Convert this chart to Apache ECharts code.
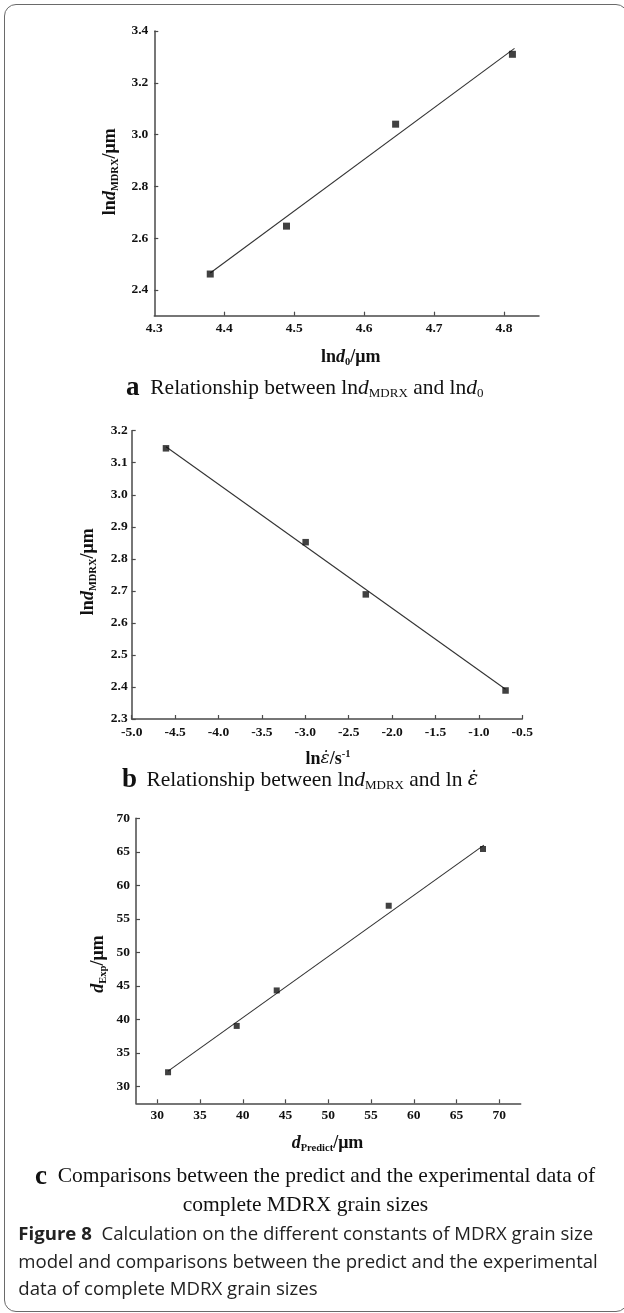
<!DOCTYPE html>
<html>
<head>
<meta charset="utf-8">
<script src="https://cdn.jsdelivr.net/npm/echarts@6/dist/echarts.min.js"></script>
<style>
html,body{margin:0;padding:0;background:#fff;}
#frame{position:absolute;left:4px;top:4px;width:624px;height:1308px;border:1.5px solid #6a6a6a;border-radius:12px;box-sizing:border-box;}
#chart{position:absolute;left:0;top:0;width:624px;height:1313px;}
</style>
</head>
<body>
<div id="frame"></div>
<div id="chart"></div>
<script>
// ---------- Panel a: lnd_MDRX vs lnd0 ----------
const aLnD0     = [4.380, 4.489, 4.645, 4.812];
const aLnDmdrx  = [2.461, 2.646, 3.040, 3.310];
const aFitX     = [4.380, 4.815];
const aFitY     = [2.465, 3.333];
const aXLabels  = [4.3, 4.4, 4.5, 4.6, 4.7, 4.8];
const aXTicks   = [4.4, 4.5, 4.6, 4.7, 4.8];
const aYLabels  = [2.4, 2.6, 2.8, 3.0, 3.2, 3.4];

// ---------- Panel b: lnd_MDRX vs ln(strain rate) ----------
const bLnRate   = [-4.605, -2.996, -2.303, -0.693];
const bLnDmdrx  = [3.145, 2.852, 2.689, 2.389];
const bFitX     = [-4.605, -0.693];
const bFitY     = [3.150, 2.393];
const bXLabels  = [-5.0, -4.5, -4.0, -3.5, -3.0, -2.5, -2.0, -1.5, -1.0, -0.5];
const bYLabels  = [2.3, 2.4, 2.5, 2.6, 2.7, 2.8, 2.9, 3.0, 3.1, 3.2];

// ---------- Panel c: d_Exp vs d_Predict ----------
const cPredict  = [31.25, 39.28, 43.96, 57.06, 68.09];
const cExp      = [32.13, 39.04, 44.33, 56.96, 65.42];
const cFitX     = [31.25, 68.20];
const cFitY     = [32.30, 66.00];
const cXLabels  = [30, 35, 40, 45, 50, 55, 60, 65, 70];
const cYLabels  = [30, 35, 40, 45, 50, 55, 60, 65, 70];

const SERIF = "'Liberation Serif', 'Times New Roman', serif";
const MARKF = "'DejaVu Serif', serif";
const SANS  = "'Open Sans', 'Noto Sans', sans-serif";
const AXIS_COLOR = '#4a4a4a';
const INK = '#111';

function pairs(xs, ys){ return xs.map((x,i)=>[x, ys[i]]); }

function axis(gridIndex, min, max, labels, ticks, digits, margin){
  return {
    type:'value', gridIndex, min, max, scale:true,
    axisLine:{show:true, onZero:false, lineStyle:{color:AXIS_COLOR, width:1.5}},
    axisTick:{show:true, inside:true, length:4, customValues:ticks, lineStyle:{color:AXIS_COLOR, width:1.2}},
    axisLabel:{show:true, customValues:labels, margin,
      formatter:(v)=>Number(v).toFixed(digits),
      color:INK, fontFamily:SERIF, fontWeight:'bold', fontSize:13.5},
    splitLine:{show:false}
  };
}

const chart = echarts.init(document.getElementById('chart'), null, {renderer:'canvas'});

const grids = [
  {left:154.3, top:31,    width:384.7, height:284.7, outerBoundsMode:'none', containLabel:false},
  {left:131.7, top:430.7, width:390.6, height:288.3, outerBoundsMode:'none', containLabel:false},
  {left:136,   top:818.3, width:384.7, height:285,   outerBoundsMode:'none', containLabel:false}
];

const xAxes = [
  axis(0, 4.3, 4.85, aXLabels, aXTicks, 1, 6),
  axis(1, -5.0, -0.5, bXLabels, bXLabels, 1, 7),
  axis(2, 27.5, 72.5, cXLabels, cXLabels, 0, 5)
];
const yAxes = [
  axis(0, 2.3, 3.4, aYLabels, aYLabels, 1, 6),
  axis(1, 2.3, 3.2, bYLabels, bYLabels, 1, 4),
  axis(2, 27.5, 70, cYLabels, cYLabels, 0, 6)
];

function scatter(i, xs, ys, size){
  return {type:'scatter', xAxisIndex:i, yAxisIndex:i, data:pairs(xs, ys),
    symbol:'rect', symbolSize:size, itemStyle:{color:INK}, z:3, silent:true};
}
function fit(i, xs, ys){
  return {type:'line', xAxisIndex:i, yAxisIndex:i, data:pairs(xs, ys),
    showSymbol:false, symbol:'none', lineStyle:{color:'#333', width:1.1}, z:2, silent:true};
}

const series = [
  fit(0, aFitX, aFitY), scatter(0, aLnD0, aLnDmdrx, 7),
  fit(1, bFitX, bFitY), scatter(1, bLnRate, bLnDmdrx, 6.5),
  fit(2, cFitX, cFitY), scatter(2, cPredict, cExp, 6)
];

// ---- rich text styles ----
const N = 18;
const nameRich = {
  r:  {fontFamily:SERIF, fontWeight:'bold', fontSize:N, lineHeight:21, fill:INK},
  i:  {fontFamily:SERIF, fontWeight:'bold', fontStyle:'italic', fontSize:N, lineHeight:21, fill:INK},
  e:  {fontFamily:MARKF, fontStyle:'italic', fontSize:N-1, lineHeight:21, fill:INK},
  sub:{fontFamily:SERIF, fontWeight:'bold', fontSize:10.5, lineHeight:10, verticalAlign:'bottom', fill:INK},
  sup:{fontFamily:SERIF, fontWeight:'bold', fontSize:10.5, lineHeight:10, verticalAlign:'top', fill:INK}
};
const C = 21.5;
const capRich = {
  L:  {fontFamily:SERIF, fontWeight:'bold', fontSize:27, lineHeight:24, fill:INK},
  Lp: {fontFamily:SERIF, fontWeight:'bold', fontSize:27, lineHeight:24, fill:INK, padding:[0,4,0,0]},
  t:  {fontFamily:SERIF, fontSize:C, lineHeight:24, fill:INK},
  ti: {fontFamily:SERIF, fontStyle:'italic', fontSize:C, lineHeight:24, fill:INK},
  te: {fontFamily:MARKF, fontStyle:'italic', fontSize:C-2, lineHeight:24, fill:INK},
  ts: {fontFamily:SERIF, fontSize:13, lineHeight:13, verticalAlign:'bottom', fill:INK}
};
const F = 18.6;
const figRich = {
  b: {fontFamily:SANS, fontWeight:'bold', fontSize:F, lineHeight:24, fill:'#222'},
  t: {fontFamily:SANS, fontSize:F, lineHeight:24, fill:'#222'}
};

function txt(x, y, text, rich, align, rot){
  return {type:'text', x, y, rotation:rot||0, silent:true,
    style:{text, rich, align:align||'center', verticalAlign:'middle', fill:INK}};
}
const UP = Math.PI/2;
const EPSDOT = '\u03B5\u0307';

const graphic = [
  // panel a
  txt(350.8, 357, '{r|ln}{i|d}{sub|0}{r|/\u03BCm}', nameRich, 'center'),
  txt(110, 171.7, '{r|ln}{i|d}{sub|MDRX}{r|/\u03BCm}', nameRich, 'center', UP),
  txt(126, 388, '{L|a}{t|  Relationship between ln}{ti|d}{ts|MDRX}{t| and ln}{ti|d}{ts|0}', capRich, 'left'),
  // panel b
  txt(328, 759, '{r|ln}{e|' + EPSDOT + '}{r|/s}{sup|-1}', nameRich, 'center'),
  txt(88, 571.7, '{r|ln}{i|d}{sub|MDRX}{r|/\u03BCm}', nameRich, 'center', UP),
  txt(122, 780, '{Lp|b}{t| Relationship between ln}{ti|d}{ts|MDRX}{t| and ln }{te|' + EPSDOT + '}', capRich, 'left'),
  // panel c
  txt(327.5, 1143, '{i|d}{sub|Predict}{r|/\u03BCm}', nameRich, 'center'),
  txt(98, 964, '{i|d}{sub|Exp}{r|/\u03BCm}', nameRich, 'center', UP),
  txt(35, 1176.7, '{L|c}{t|  Comparisons between the predict and the experimental data of}', capRich, 'left'),
  txt(182.7, 1205, '{t|complete MDRX grain sizes}', capRich, 'left'),
  // figure caption
  txt(18.3, 1235, '{b|Figure 8}{t|  Calculation on the different constants of MDRX grain size}', figRich, 'left'),
  txt(18.3, 1263, '{t|model and comparisons between the predict and the experimental}', figRich, 'left'),
  txt(18.3, 1290, '{t|data of complete MDRX grain sizes}', figRich, 'left')
];

chart.setOption({
  animation:false,
  backgroundColor:'transparent',
  grid:grids,
  xAxis:xAxes,
  yAxis:yAxes,
  series,
  graphic
});
</script>
</body>
</html>
